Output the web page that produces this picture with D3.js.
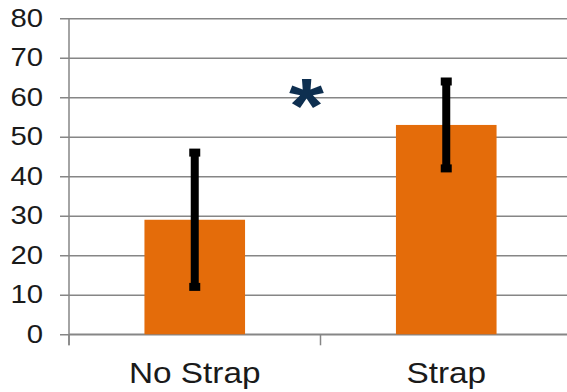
<!DOCTYPE html>
<html>
<head>
<meta charset="utf-8">
<script src="https://cdn.jsdelivr.net/npm/d3@7"></script>
<style>
  html, body { margin: 0; padding: 0; background: #fff; }
  svg { display: block; font-family: "Liberation Sans", Arial, sans-serif; }
</style>
</head>
<body>
<div id="chart"></div>
<script>
// data
const categories = ['No Strap', 'Strap'];
const means = [29, 53];
const errors = [17, 11];
const yTicks = [0, 10, 20, 30, 40, 50, 60, 70, 80];
const marker = '*';

const width = 567, height = 392;
const margin = { top: 18.3, right: -5, bottom: 57.7, left: 69 };
const innerW = width - margin.left - margin.right;
const innerH = height - margin.top - margin.bottom;
const stretch = 1.15; // text in the picture is a bit wider than normal

const svg = d3.select('#chart')
  .append('svg')
  .attr('width', width)
  .attr('height', height);

const g = svg.append('g')
  .attr('transform', `translate(${margin.left},${margin.top})`);

const x = d3.scaleBand()
  .domain(categories)
  .range([0, innerW])
  .paddingInner(0.6)
  .paddingOuter(0.3);

const y = d3.scaleLinear()
  .domain([0, 80])
  .range([innerH, 0]);

// gridlines + y axis
const yAxis = g.append('g')
  .call(d3.axisLeft(y).tickValues(yTicks).tickSize(-innerW - 9).tickPadding(26));
yAxis.select('.domain').remove();
yAxis.selectAll('.tick line')
  .attr('x1', -9)
  .attr('x2', innerW)
  .attr('stroke', '#868686')
  .attr('stroke-width', 1.5);
yAxis.selectAll('.tick text')
  .attr('fill', '#1a1a1a')
  .style('font-size', '25.5px')
  .each(function () {
    const t = d3.select(this);
    const tx = +t.attr('x');
    t.attr('x', 0).attr('transform', `translate(${tx},0) scale(${stretch},1)`);
  });

// left axis line
g.append('line')
  .attr('x1', 0).attr('x2', 0)
  .attr('y1', 0).attr('y2', innerH + 11)
  .attr('stroke', '#868686')
  .attr('stroke-width', 1.5);

// x axis line and category ticks
g.append('line')
  .attr('x1', 0).attr('x2', innerW)
  .attr('y1', innerH).attr('y2', innerH)
  .attr('stroke', '#868686')
  .attr('stroke-width', 1.5);

const step = x.step();
g.selectAll('.xtick')
  .data(d3.range(categories.length + 1))
  .enter()
  .append('line')
  .attr('x1', i => i * step)
  .attr('x2', i => i * step)
  .attr('y1', innerH)
  .attr('y2', innerH + 11)
  .attr('stroke', '#868686')
  .attr('stroke-width', 1.5);

// bars
g.selectAll('.bar')
  .data(categories)
  .enter()
  .append('rect')
  .attr('x', d => x(d))
  .attr('y', (d, i) => y(means[i]))
  .attr('width', x.bandwidth())
  .attr('height', (d, i) => innerH - y(means[i]))
  .attr('fill', '#E46C0A');

// error bars
const eb = g.selectAll('.err')
  .data(categories)
  .enter()
  .append('g');
eb.append('line')
  .attr('x1', d => x(d) + x.bandwidth() / 2)
  .attr('x2', d => x(d) + x.bandwidth() / 2)
  .attr('y1', (d, i) => y(means[i] + errors[i]))
  .attr('y2', (d, i) => y(means[i] - errors[i]))
  .attr('stroke', '#000')
  .attr('stroke-width', 8);
eb.selectAll('rect')
  .data((d, i) => [means[i] + errors[i], means[i] - errors[i]].map(v => ({ c: d, v })))
  .enter()
  .append('rect')
  .attr('x', d => x(d.c) + x.bandwidth() / 2 - 5.5)
  .attr('y', d => y(d.v) - 4)
  .attr('width', 11)
  .attr('height', 8)
  .attr('fill', '#000');

// category labels
g.selectAll('.xlabel')
  .data(categories)
  .enter()
  .append('text')
  .attr('x', 0)
  .attr('y', 0)
  .attr('transform', d => `translate(${x(d) + x.bandwidth() / 2},${innerH + 49}) scale(${stretch},1)`)
  .attr('text-anchor', 'middle')
  .attr('fill', '#1a1a1a')
  .style('font-size', '29px')
  .text(d => d);

// significance marker
g.append('text')
  .attr('x', 0)
  .attr('y', 0)
  .attr('transform', `translate(${step - 14},${y(51)}) scale(${stretch},1)`)
  .attr('text-anchor', 'middle')
  .attr('fill', '#0E2F50')
  .style('font-size', '78px')
  .style('font-weight', 'bold')
  .text(marker);
</script>
</body>
</html>
